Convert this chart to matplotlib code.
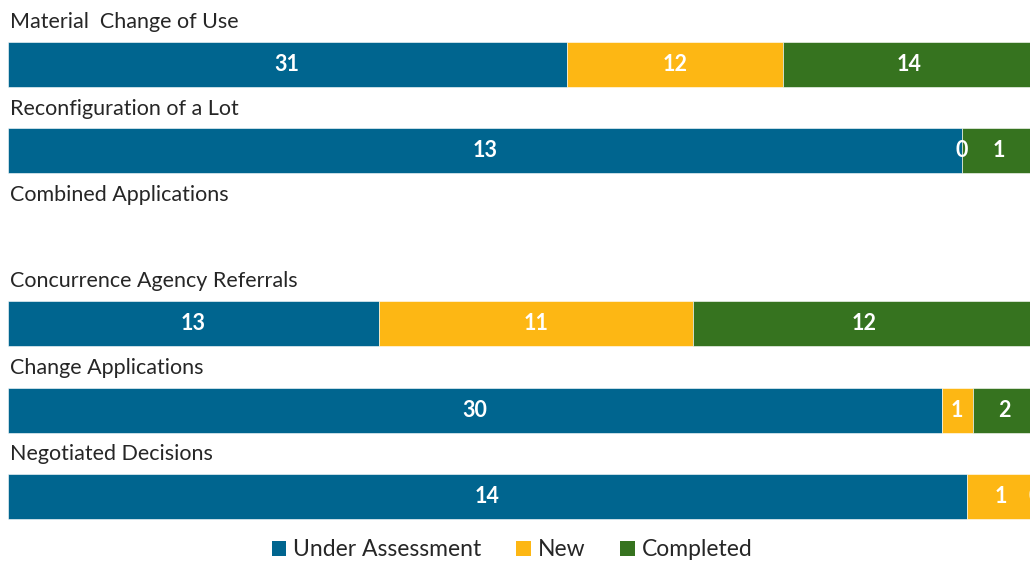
import matplotlib
matplotlib.use("Agg")
import matplotlib.pyplot as plt
import numpy as np
from matplotlib.patches import Patch

plt.rcParams["font.family"] = ["Lato", "DejaVu Sans"]

CATEGORIES = [
    "Material  Change of Use",
    "Reconfiguration of a Lot",
    "Combined Applications",
    "Concurrence Agency Referrals",
    "Change Applications",
    "Negotiated Decisions",
]
SERIES = ["Under Assessment", "New", "Completed"]
UNDER_ASSESSMENT = [31, 13, None, 13, 30, 14]
NEW = [12, 0, None, 11, 1, 1]
COMPLETED = [14, 1, None, 12, 2, 0]

COLORS = ["#00658F", "#FDB714", "#36731F"]

W, H = 1030, 562
fig = plt.figure(figsize=(W / 100, H / 100), dpi=100)
ax = fig.add_axes([8 / W, 1 - 530 / H, 1 - 8 / W, 530 / H])

row_px0, row_step = 64.5, 86.4
ax.set_ylim((530 - row_px0) / row_step, -row_px0 / row_step)
ax.set_xlim(0, 0.995)
ax.axis("off")

data = np.array([[np.nan if v is None else v for v in s]
                 for s in (UNDER_ASSESSMENT, NEW, COMPLETED)], dtype=float)

for i, cat in enumerate(CATEGORIES):
    ax.text(0.002, i - 0.49, cat, ha="left", va="center", fontsize=15.5,
            color="#262626")
    col = data[:, i]
    if np.isnan(col).all():
        continue
    total = np.nansum(col)
    left = 0.0
    for j, v in enumerate(col):
        w = v / total
        ax.barh(i, w, left=left, height=0.52, color=COLORS[j],
                edgecolor="white", linewidth=0.4)
        ax.text(left + w / 2, i, f"{int(v)}", ha="center", va="center",
                fontsize=15.5, fontweight="bold", color="white", clip_on=False)
        left += w

handles = [Patch(facecolor=c, label=s) for c, s in zip(COLORS, SERIES)]
fig.legend(handles=handles, loc="center", bbox_to_anchor=(0.497, 1 - 550 / H),
           ncol=3, frameon=False, fontsize=16.5, handlelength=0.65,
           handleheight=0.65, handletextpad=0.3, columnspacing=1.5,
           labelcolor="#262626")

fig.savefig("out.png", dpi=100)
